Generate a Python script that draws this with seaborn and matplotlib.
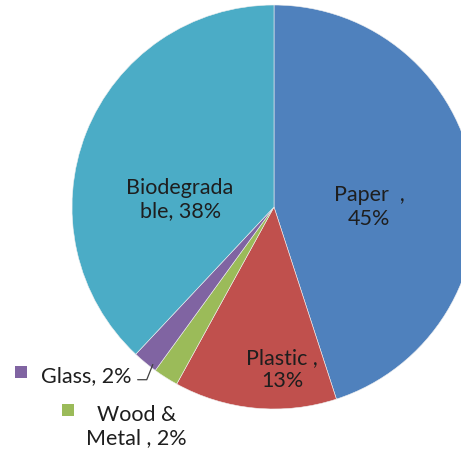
import matplotlib
matplotlib.use("Agg")
import matplotlib.pyplot as plt
import seaborn as sns

sns.set_theme(style="white")
plt.rcParams["font.family"] = ["Lato", "DejaVu Sans"]

# Waste composition
categories = ["Paper", "Plastic", "Wood & Metal", "Glass", "Biodegradable"]
shares = [45, 13, 2, 2, 38]
colors = ["#4F81BD", "#C0504D", "#9BBB59", "#8064A2", "#4BACC6"]

fig = plt.figure(figsize=(4.61, 4.55), dpi=100)
ax = fig.add_axes([72 / 461, 46 / 455, 404 / 461, 404 / 455])
ax.pie(shares, colors=colors, startangle=90, counterclock=False,
       radius=1.0, wedgeprops=dict(linewidth=0.4, edgecolor="#f0f0f0"))
ax.set_xlim(-1, 1)
ax.set_ylim(-1, 1)
ax.set_aspect("equal")
ax.axis("off")

txt = dict(fontsize=15.5, color="#1e1e1e", ha="center", va="center",
           linespacing=1.2)
ax.text(0.47, 0.0, f"Paper  ,\n{shares[0]}%", **txt)
ax.text(0.04, -0.805, f"Plastic ,\n{shares[1]}%", **txt)
ax.text(-0.465, 0.035, f"Biodegrada\nble, {shares[4]}%", **txt)
ax.text(-0.93, -0.835, f"Glass, {shares[3]}%", clip_on=False, **txt)
ax.text(-0.68, -1.085, f"Wood &\nMetal , {shares[2]}%", clip_on=False, **txt)

# legend-style squares next to the outside labels
ax.scatter([-1.252, -1.02], [-0.817, -1.005], marker="s", s=72,
           color=[colors[3], colors[2]], clip_on=False, linewidths=0)

# leader line from the Glass label to its slice
ax.plot([-0.675, -0.63, -0.60], [-0.855, -0.855, -0.78], color="#404040",
        linewidth=0.9, clip_on=False)

fig.savefig("out.png", dpi=100)
